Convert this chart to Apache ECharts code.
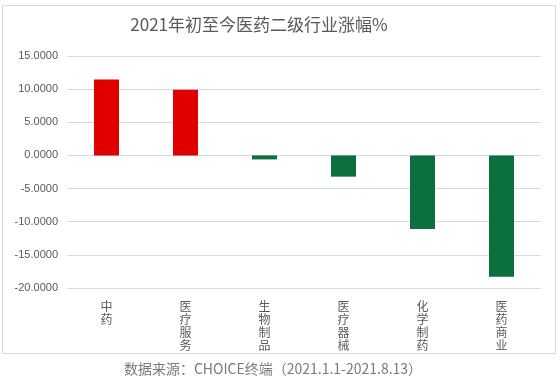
<!DOCTYPE html>
<html>
<head>
<meta charset="utf-8">
<script src="https://cdn.jsdelivr.net/npm/echarts@6/dist/echarts.min.js"></script>
<style>
    html, body { margin: 0; padding: 0; background: #fff; }
    #chart { width: 560px; height: 378px; }
</style>
</head>
<body>
<div id="chart"></div>
<script>
const titleText = '2021年初至今医药二级行业涨幅%';
const sourceText = '数据来源：CHOICE终端（2021.1.1-2021.8.13）';
const industries = ['中药', '医疗服务', '生物制品', '医疗器械', '化学制药', '医药商业'];
const changes = [11.45, 9.92, -0.6, -3.2, -11.1, -18.3];

const upColor = '#e00000';
const downColor = '#0b703c';
const textColor = '#595959';

const chart = echarts.init(document.getElementById('chart'));

chart.setOption({
    animation: false,
    grid: {
        left: 67,
        right: 19,
        top: 56,
        bottom: 90
    },
    xAxis: {
        type: 'category',
        data: industries,
        position: 'bottom',
        axisLine: { show: false },
        axisTick: { show: false },
        axisLabel: {
            interval: 0,
            margin: 12,
            color: textColor,
            fontSize: 12,
            lineHeight: 13,
            fontFamily: 'Noto Sans CJK SC',
            formatter: (v) => v.split('').join('\n')
        }
    },
    yAxis: {
        type: 'value',
        min: -20,
        max: 15,
        interval: 5,
        axisLine: { show: false },
        axisTick: { show: false },
        axisLabel: {
            margin: 9,
            color: textColor,
            fontSize: 11,
            fontFamily: 'Liberation Sans',
            formatter: (v) => v.toFixed(4)
        },
        splitLine: {
            lineStyle: { color: '#d9d9d9', width: 1 }
        }
    },
    series: [
        {
            type: 'bar',
            barWidth: 25,
            data: changes.map((v) => ({
                value: v,
                itemStyle: { color: v >= 0 ? upColor : downColor }
            }))
        }
    ],
    graphic: [
        {
            type: 'rect',
            shape: { x: 2.5, y: 5.5, width: 553, height: 348 },
            style: { fill: 'none', stroke: '#d9d9d9', lineWidth: 1 },
            silent: true
        },
        {
            type: 'text',
            x: 259,
            y: 25,
            style: {
                text: titleText,
                fill: textColor,
                font: '17px "Noto Sans CJK SC"',
                textAlign: 'center',
                textVerticalAlign: 'middle'
            }
        },
        {
            type: 'text',
            x: 273,
            y: 369,
            style: {
                text: sourceText,
                fill: '#7a7a7a',
                font: '14px "Noto Sans CJK SC"',
                textAlign: 'center',
                textVerticalAlign: 'middle'
            }
        }
    ]
});
</script>
</body>
</html>
